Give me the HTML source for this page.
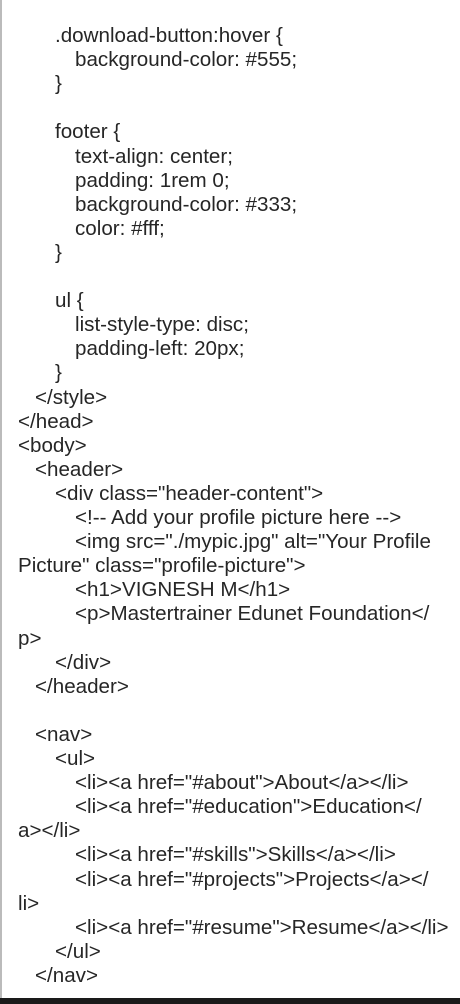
<!DOCTYPE html>
<html><head><meta charset="utf-8"><style>
html,body{margin:0;padding:0;}
body{width:460px;height:1004px;position:relative;overflow:hidden;background:#fff;font-family:"Liberation Sans",sans-serif;font-size:20.6px;color:#262626;}
.l{position:absolute;white-space:pre;line-height:24px;height:24px;}
.lb{position:absolute;left:0;top:0;width:2px;height:1000px;background:#bbb;}
.bb{position:absolute;left:0;top:998px;width:460px;height:6px;background:#1a1a1a;}
</style></head><body>
<div class="lb"></div>
<div class="l" style="left:55px;top:24px">.download-button:hover {</div>
<div class="l" style="left:75px;top:48.1px">background-color: #555;</div>
<div class="l" style="left:55px;top:72.2px">}</div>
<div class="l" style="left:55px;top:120.4px">footer {</div>
<div class="l" style="left:75px;top:144.5px">text-align: center;</div>
<div class="l" style="left:75px;top:168.6px">padding: 1rem 0;</div>
<div class="l" style="left:75px;top:192.7px">background-color: #333;</div>
<div class="l" style="left:75px;top:216.8px">color: #fff;</div>
<div class="l" style="left:55px;top:240.9px">}</div>
<div class="l" style="left:55px;top:289.1px">ul {</div>
<div class="l" style="left:75px;top:313.2px">list-style-type: disc;</div>
<div class="l" style="left:75px;top:337.3px">padding-left: 20px;</div>
<div class="l" style="left:55px;top:361.4px">}</div>
<div class="l" style="left:35px;top:385.5px">&lt;/style&gt;</div>
<div class="l" style="left:18px;top:409.6px">&lt;/head&gt;</div>
<div class="l" style="left:18px;top:433.7px">&lt;body&gt;</div>
<div class="l" style="left:35px;top:457.8px">&lt;header&gt;</div>
<div class="l" style="left:55px;top:481.9px">&lt;div class="header-content"&gt;</div>
<div class="l" style="left:75px;top:506px">&lt;!-- Add your profile picture here --&gt;</div>
<div class="l" style="left:75px;top:530.1px">&lt;img src="./mypic.jpg" alt="Your Profile</div>
<div class="l" style="left:18px;top:554.2px">Picture" class="profile-picture"&gt;</div>
<div class="l" style="left:75px;top:578.3px">&lt;h1&gt;VIGNESH M&lt;/h1&gt;</div>
<div class="l" style="left:75px;top:602.4px">&lt;p&gt;Mastertrainer Edunet Foundation&lt;/</div>
<div class="l" style="left:18px;top:626.5px">p&gt;</div>
<div class="l" style="left:55px;top:650.6px">&lt;/div&gt;</div>
<div class="l" style="left:35px;top:674.7px">&lt;/header&gt;</div>
<div class="l" style="left:35px;top:722.9px">&lt;nav&gt;</div>
<div class="l" style="left:55px;top:747px">&lt;ul&gt;</div>
<div class="l" style="left:75px;top:771.1px">&lt;li&gt;&lt;a href="#about"&gt;About&lt;/a&gt;&lt;/li&gt;</div>
<div class="l" style="left:75px;top:795.2px">&lt;li&gt;&lt;a href="#education"&gt;Education&lt;/</div>
<div class="l" style="left:18px;top:819.3px">a&gt;&lt;/li&gt;</div>
<div class="l" style="left:75px;top:843.4px">&lt;li&gt;&lt;a href="#skills"&gt;Skills&lt;/a&gt;&lt;/li&gt;</div>
<div class="l" style="left:75px;top:867.5px">&lt;li&gt;&lt;a href="#projects"&gt;Projects&lt;/a&gt;&lt;/</div>
<div class="l" style="left:18px;top:891.6px">li&gt;</div>
<div class="l" style="left:75px;top:915.7px">&lt;li&gt;&lt;a href="#resume"&gt;Resume&lt;/a&gt;&lt;/li&gt;</div>
<div class="l" style="left:55px;top:939.8px">&lt;/ul&gt;</div>
<div class="l" style="left:35px;top:963.9px">&lt;/nav&gt;</div>
<div class="bb"></div>
</body></html>
